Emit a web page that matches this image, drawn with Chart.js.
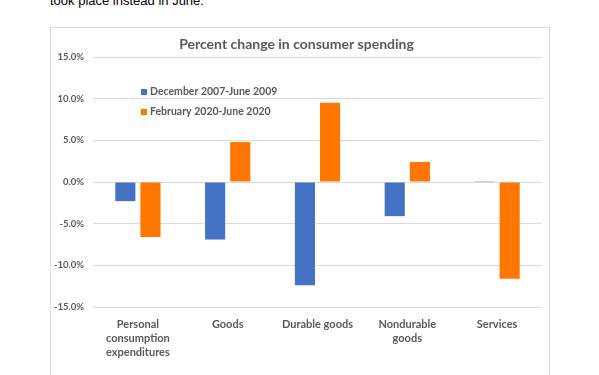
<!DOCTYPE html>
<html>
<head>
<meta charset="utf-8">
<script src="https://cdn.jsdelivr.net/npm/chart.js@4/dist/chart.umd.min.js"></script>
<style>
  html, body { margin: 0; padding: 0; background: #fff; overflow: hidden; }
  body { width: 599px; height: 375px; position: relative; }
  #lead { position: absolute; left: 50px; top: -7px; font: 13px "Liberation Sans", Arial, sans-serif; color: #000; }
  #box { position: absolute; left: 50px; top: 27px; width: 500px; height: 360px; border: 1px solid #d9d9d9; box-sizing: border-box; }
  #chart { position: absolute; left: 0; top: 0; }
</style>
</head>
<body>
<div id="lead">took place instead in June.</div>
<div id="box"><canvas id="chart" width="498" height="358"></canvas></div>
<script>
// percent change in consumer spending, two recession windows
const categories = [
    ['Personal', 'consumption', 'expenditures'],
    'Goods',
    'Durable goods',
    ['Nondurable', 'goods'],
    'Services'
];
const seriesNames = ['December 2007-June 2009', 'February 2020-June 2020'];
const recession0709 = [-2.3, -6.9, -12.4, -4.1, 0.1];
const covid2020 = [-6.6, 4.8, 9.5, 2.4, -11.6];
const yTicks = [-15, -10, -5, 0, 5, 10, 15];

const grey = '#595959';
const fontFam = 'Lato, "Open Sans", sans-serif';

// legend sits inside the plot, stacked, like the Excel original
const insideLegend = {
    id: 'insideLegend',
    afterDraw(chart) {
        const c = chart.ctx;
        c.save();
        c.font = 'bold 10.5px ' + fontFam;
        c.textBaseline = 'middle';
        chart.data.datasets.forEach((ds, i) => {
            const y = 64 + i * 20;
            c.fillStyle = ds.backgroundColor;
            c.fillRect(90, y - 3, 6, 6);
            c.fillStyle = grey;
            c.fillText(ds.label, 99, y);
        });
        c.restore();
    }
};

const ctx = document.getElementById('chart').getContext('2d');
new Chart(ctx, {
    type: 'bar',
    data: {
        labels: categories,
        datasets: [
            { label: seriesNames[0], data: recession0709, backgroundColor: '#4472C4' },
            { label: seriesNames[1], data: covid2020, backgroundColor: '#FF7700' }
        ]
    },
    options: {
        responsive: false,
        animation: false,
        categoryPercentage: 0.56,
        barPercentage: 0.8,
        layout: { padding: { left: 0, right: 7, top: 0, bottom: 0 } },
        plugins: {
            legend: { display: false },
            tooltip: { enabled: false },
            title: {
                display: true,
                text: 'Percent change in consumer spending',
                color: grey,
                font: { family: fontFam, size: 14, weight: 'bold', lineHeight: 1.2 },
                padding: { top: 8, bottom: 4.2 }
            }
        },
        scales: {
            y: {
                min: -15,
                max: 15,
                afterBuildTicks: (s) => { s.ticks = yTicks.map(v => ({ value: v })); },
                afterFit: (s) => { s.width = 42; },
                grid: { color: '#d9d9d9', lineWidth: 1, drawTicks: false },
                border: { display: false },
                ticks: {
                    color: grey,
                    padding: 9,
                    font: { family: fontFam, size: 9.5, weight: 'bold' },
                    callback: (v) => v.toFixed(1) + '%'
                }
            },
            x: {
                afterFit: (s) => { s.height = 79; },
                grid: { display: false },
                border: { display: false },
                ticks: {
                    color: grey,
                    padding: 2,
                    maxRotation: 0,
                    autoSkip: false,
                    font: { family: fontFam, size: 11, weight: 'bold', lineHeight: 1.3 }
                }
            }
        }
    },
    plugins: [insideLegend]
});
</script>
</body>
</html>
